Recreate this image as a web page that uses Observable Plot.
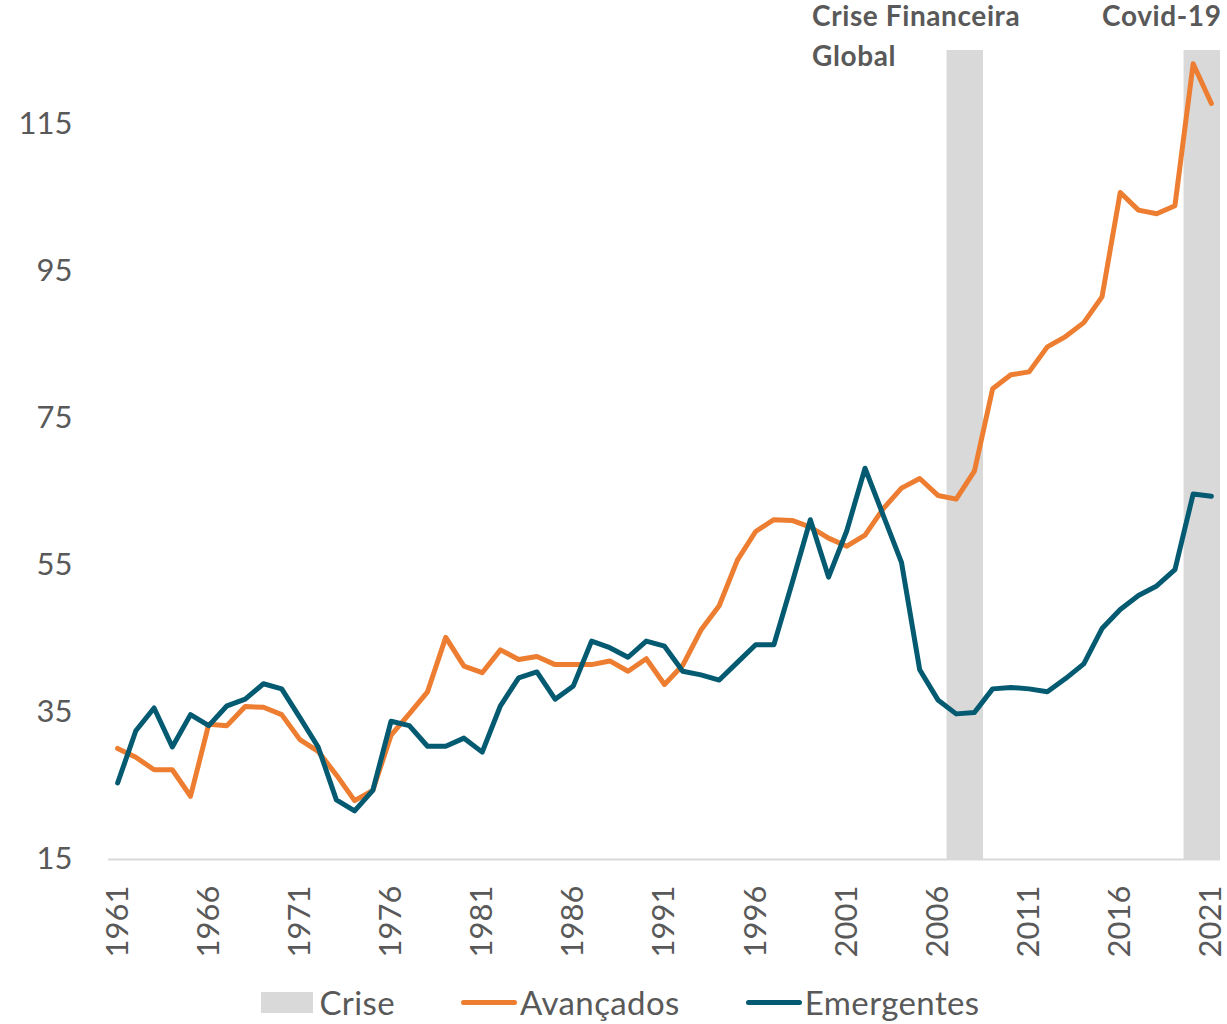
<!DOCTYPE html>
<html>
<head>
<meta charset="utf-8">
<script src="https://cdn.jsdelivr.net/npm/d3@7"></script>
<script src="https://cdn.jsdelivr.net/npm/@observablehq/plot@0.6"></script>
<style>
  body { margin: 0; background: #fff; font-family: Lato, sans-serif; }
  #chart svg { display: block; }
  #chart svg g[aria-label="text"] text { letter-spacing: 0.6px; }
  #legend { display: flex; justify-content: center; align-items: center; height: 44px; padding-left: 14px; color: #595959; font-size: 33px; letter-spacing: 0.4px; font-family: Lato, sans-serif; }
  .item { display: flex; align-items: center; margin: 0 33px; }
  .rect { width: 52px; height: 21px; background: #d9d9d9; margin-right: 6px; }
  .line { width: 56px; height: 5px; border-radius: 3px; margin-right: 3px; }
</style>
</head>
<body>
<div id="chart"></div>
<div id="legend"></div>
<script>
const years = [1961,1962,1963,1964,1965,1966,1967,1968,1969,1970,
  1971,1972,1973,1974,1975,1976,1977,1978,1979,1980,
  1981,1982,1983,1984,1985,1986,1987,1988,1989,1990,
  1991,1992,1993,1994,1995,1996,1997,1998,1999,2000,
  2001,2002,2003,2004,2005,2006,2007,2008,2009,2010,
  2011,2012,2013,2014,2015,2016,2017,2018,2019,2020,2021];

const avancados = [30.1,28.9,27.2,27.2,23.6,33.4,33.2,35.8,35.7,34.7,
  31.3,29.7,26.5,23.0,24.4,31.9,34.8,37.8,45.2,41.3,
  40.4,43.5,42.2,42.6,41.5,41.5,41.5,42.0,40.6,42.3,
  38.8,41.4,46.2,49.5,55.7,59.6,61.2,61.1,60.2,58.7,
  57.6,59.1,62.7,65.5,66.8,64.5,64.0,67.8,79.0,80.9,
  81.3,84.7,86.1,88.0,91.5,105.7,103.3,102.8,103.9,123.2,117.8];

const emergentes = [25.4,32.5,35.6,30.3,34.7,33.2,35.9,36.8,38.9,38.2,
  34.3,30.3,23.1,21.6,24.4,33.8,33.2,30.4,30.4,31.5,
  29.6,35.9,39.7,40.5,36.8,38.6,44.7,43.8,42.5,44.7,
  44.0,40.6,40.1,39.4,41.8,44.2,44.2,52.6,61.2,53.4,
  59.7,68.2,61.8,55.4,40.8,36.7,34.8,35.0,38.2,38.4,
  38.2,37.8,39.6,41.6,46.4,49.0,50.9,52.2,54.4,64.7,64.4];

const crisisStart = [2007, 2020];
const crisisEnd = [2008, 2021];
const crisisLabels = ["Crise Financeira\nGlobal", "Covid-19"];

const xTicks = [1961,1966,1971,1976,1981,1986,1991,1996,2001,2006,2011,2016,2021];
const yTicks = [15,35,55,75,95,115];
const yMin = 15, yMax = 125;

const seriesNames = ["Avançados", "Emergentes"];
const colors = { "Avançados": "#ED7D31", "Emergentes": "#035A71" };

const rows = [];
years.forEach((yr, i) => {
  rows.push({ year: yr, value: avancados[i], serie: "Avançados" });
  rows.push({ year: yr, value: emergentes[i], serie: "Emergentes" });
});
const crises = crisisStart.map((s, i) => ({ start: s, end: crisisEnd[i], label: crisisLabels[i] }));

const chart = Plot.plot({
  width: 1227,
  height: 980,
  marginLeft: 108,
  marginRight: 7,
  marginTop: 50,
  marginBottom: 121,
  x: { domain: [1960.5, 2021.5], axis: null },
  y: { domain: [yMin, yMax], axis: null },
  style: { fontFamily: "Lato, sans-serif", color: "#595959", background: "white", overflow: "visible" },
  marks: [
    Plot.ruleY([yMin], { stroke: "#d9d9d9", strokeWidth: 2 }),
    Plot.rect(crises, { x1: d => d.start - 0.5, x2: d => d.end + 0.5, y1: yMin, y2: yMax, fill: "#d9d9d9" }),
    Plot.axisY({ ticks: yTicks, tickSize: 0, tickPadding: 36, fontSize: 31, label: null }),
    Plot.axisX({ ticks: xTicks, tickSize: 0, tickPadding: 26, tickRotate: -90, textAnchor: "end", lineAnchor: "middle", fontSize: 31, tickFormat: d => String(d), label: null }),
    Plot.line(rows, { x: "year", y: "value", z: "serie", stroke: d => colors[d.serie], strokeWidth: 5, strokeLinejoin: "round", strokeLinecap: "round" }),
    Plot.text([crises[0]], { x: d => d.start - 0.5, y: yMax, text: "label", textAnchor: "start", lineAnchor: "top", dx: -135, dy: -52, lineHeight: 1.4, fontSize: 28, fontWeight: "bold", fill: "#595959" }),
    Plot.text([crises[1]], { x: d => d.end + 0.5, y: yMax, text: "label", textAnchor: "end", lineAnchor: "top", dx: 1, dy: -52, lineHeight: 1.4, fontSize: 28, fontWeight: "bold", fill: "#595959" })
  ]
});
document.getElementById("chart").appendChild(chart);

const legend = document.getElementById("legend");
const items = [{ name: "Crise", type: "rect" }].concat(seriesNames.map(n => ({ name: n, type: "line" })));
items.forEach(it => {
  const el = document.createElement("div");
  el.className = "item";
  const sw = document.createElement("div");
  sw.className = it.type;
  if (it.type === "line") sw.style.background = colors[it.name];
  const tx = document.createElement("span");
  tx.textContent = it.name;
  el.appendChild(sw);
  el.appendChild(tx);
  legend.appendChild(el);
});
</script>
</body>
</html>
